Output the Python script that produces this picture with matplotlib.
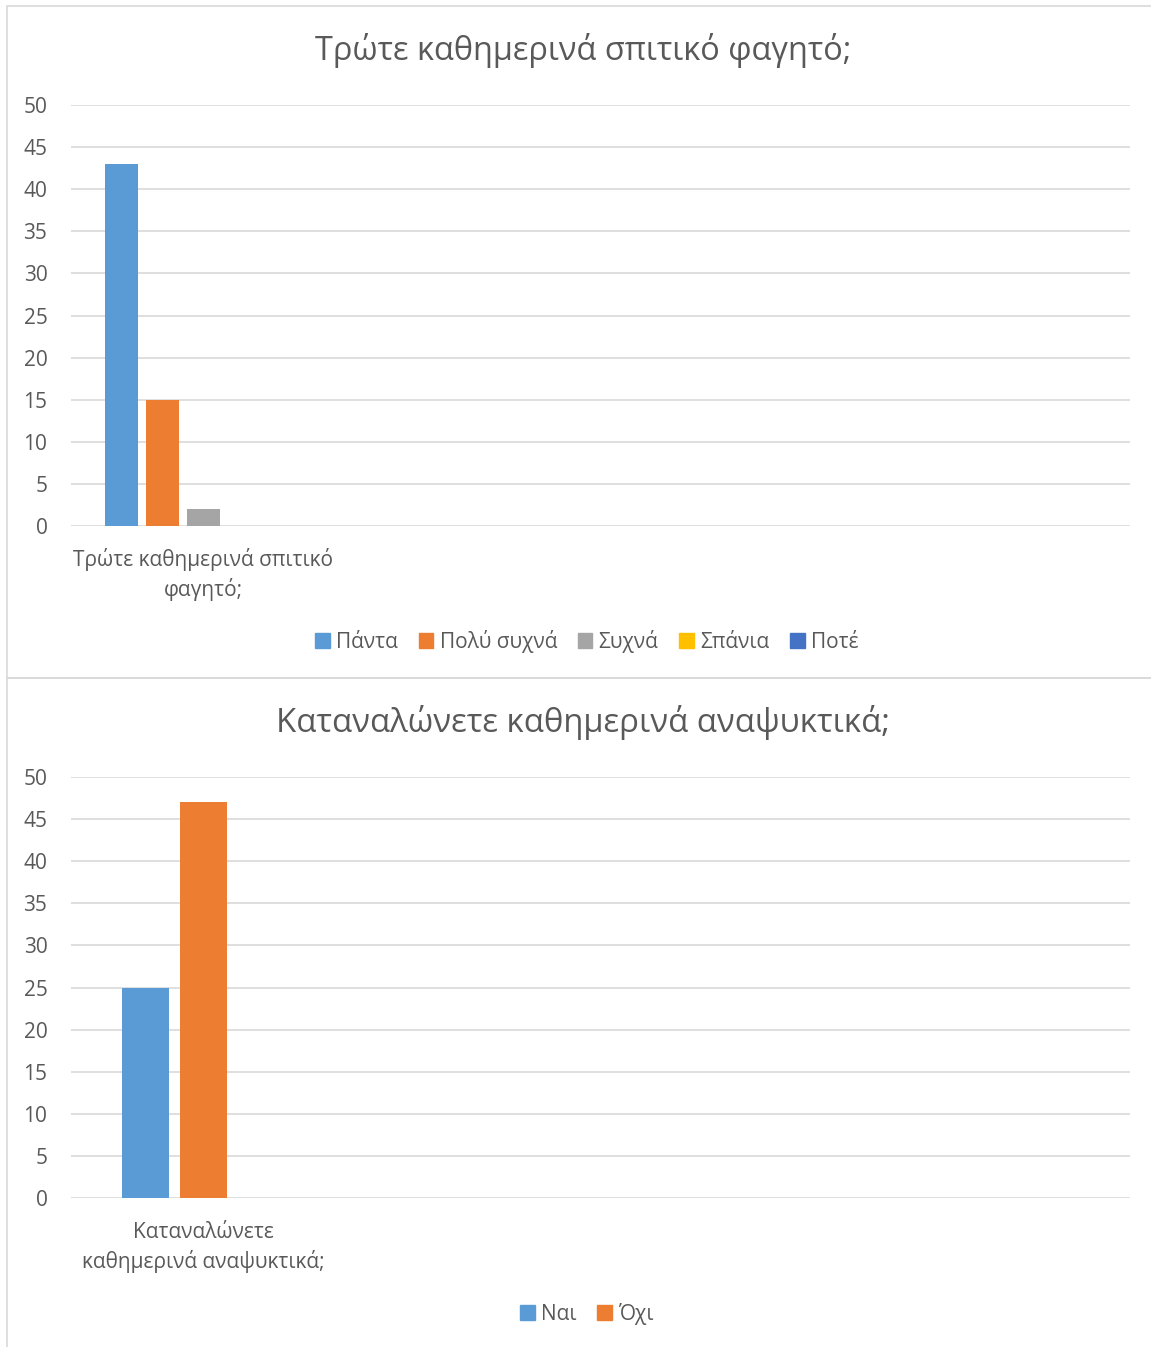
import matplotlib.pyplot as plt
from matplotlib.patches import Rectangle, Patch

plt.rcParams['font.family'] = ['Open Sans', 'DejaVu Sans']

W, H = 1151, 1347
TEXT = "#595959"
GRID = "#D9D9D9"

# chart 1
food_title = "Τρώτε καθημερινά σπιτικό φαγητό;"
food_category = "Τρώτε καθημερινά σπιτικό\nφαγητό;"
food_series = ["Πάντα", "Πολύ συχνά", "Συχνά", "Σπάνια", "Ποτέ"]
food_values = [43, 15, 2, 0, 0]
food_colors = ["#5B9BD5", "#ED7D31", "#A5A5A5", "#FFC000", "#4472C4"]

# chart 2
soda_title = "Καταναλώνετε καθημερινά αναψυκτικά;"
soda_category = "Καταναλώνετε\nκαθημερινά αναψυκτικά;"
soda_series = ["Ναι", "Όχι"]
soda_values = [25, 47]
soda_colors = ["#5B9BD5", "#ED7D31"]

y_ticks = list(range(0, 55, 5))

fig = plt.figure(figsize=(W / 100, H / 100), dpi=100)

# chart borders
for top, bottom in [(6, 678), (678, 1352)]:
    fig.patches.append(Rectangle((7 / W, 1 - bottom / H), 1.0, (bottom - top) / H,
                                 transform=fig.transFigure, fill=False,
                                 edgecolor=GRID, linewidth=1.2))


def px_axes(left, top, right, bottom):
    return fig.add_axes([left / W, 1 - bottom / H, (right - left) / W, (bottom - top) / H])


def draw_chart(top, bottom, title, title_y, title_size, category, series, values,
               colors, n_slots, width, step, legend_y, cat_pad):
    ax = px_axes(71, top, 1130, bottom)
    mid = (n_slots - 1) / 2
    for i, (v, c) in enumerate(zip(values, colors)):
        ax.bar((i - mid) * step, v, width, color=c, zorder=3)
    ax.set_xlim(-0.5, 3.5)
    ax.set_ylim(0, 50)
    ax.set_yticks(y_ticks)
    ax.set_xticks([0, 1, 2, 3])
    ax.set_xticklabels([category, "", "", ""], fontsize=15, color=TEXT,
                       linespacing=1.4)
    ax.tick_params(axis='y', length=0, pad=17, labelsize=15, labelcolor=TEXT)
    ax.tick_params(axis='x', length=0, pad=cat_pad)
    ax.grid(axis='y', color=GRID, linewidth=1.2, zorder=0)
    for s in ax.spines.values():
        s.set_visible(False)
    fig.text(583 / W, 1 - title_y / H, title, ha='center', va='center',
             fontsize=title_size, color=TEXT)
    handles = [Patch(color=c) for c in colors[:len(series)]]
    fig.legend(handles, series, loc='center', bbox_to_anchor=(587 / W, 1 - legend_y / H),
               ncol=len(series), frameon=False, fontsize=15, handlelength=0.7,
               handleheight=0.7, handletextpad=0.3, columnspacing=1.0,
               labelcolor=TEXT)
    return ax


draw_chart(105, 526, food_title, 50, 23.4, food_category, food_series, food_values,
           food_colors, 5, 33 / 265, 41 / 265, 641, 16)
draw_chart(777, 1198, soda_title, 722, 23.7, soda_category, soda_series, soda_values,
           soda_colors, 3, 47 / 265, 58 / 265, 1314, 17)

fig.savefig("out.png", dpi=100)
